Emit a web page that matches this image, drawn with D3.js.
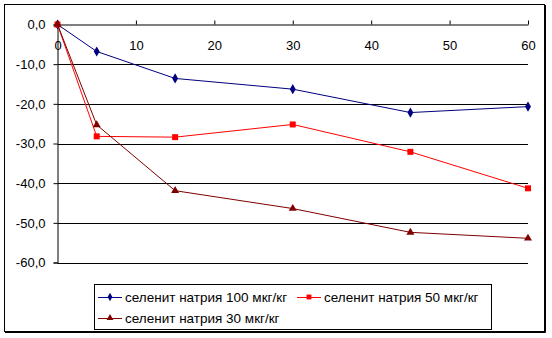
<!DOCTYPE html>
<html>
<head>
<meta charset="utf-8">
<script src="https://cdn.jsdelivr.net/npm/d3@7/dist/d3.min.js"></script>
<style>
  html, body { margin: 0; padding: 0; background: #fff; }
  svg { display: block; font-family: Arial, "Liberation Sans", sans-serif; }
</style>
</head>
<body>
<svg id="chart" width="552" height="338"></svg>
<script>
// Time points (x) and change values for each dose
const days = [0, 5, 15, 30, 45, 60];
const dose100 = [0, -6.8, -13.6, -16.3, -22.2, -20.7];
const dose50  = [0, -28.2, -28.4, -25.2, -32.1, -41.3];
const dose30  = [0, -25.3, -41.9, -46.4, -52.4, -53.9];
const xTicks = [0, 10, 20, 30, 40, 50, 60];
const yTicks = [0, -10, -20, -30, -40, -50, -60];
const seriesNames = ["селенит натрия 100 мкг/кг", "селенит натрия 50 мкг/кг", "селенит натрия 30 мкг/кг"];

const series = [
  { name: seriesNames[0], values: dose100, color: "#000080", marker: "diamond" },
  { name: seriesNames[1], values: dose50,  color: "#FF0000", marker: "square" },
  { name: seriesNames[2], values: dose30,  color: "#800000", marker: "triangle" }
];

const svg = d3.select("#chart");

// Outer frame
svg.append("rect")
  .attr("x", 4.5).attr("y", 4.5)
  .attr("width", 540).attr("height", 327)
  .attr("fill", "#fff").attr("stroke", "#000").attr("stroke-width", 1);
svg.append("path")
  .attr("d", "M545.5,5 V332.5 H5")
  .attr("fill", "none").attr("stroke", "#000").attr("stroke-width", 1);

const x = d3.scaleLinear().domain([0, 60]).range([57.5, 528]);
const y = d3.scaleLinear().domain([-60, 0]).range([262.5, 24.5]);

// Horizontal gridlines
svg.append("g")
  .selectAll("line")
  .data(yTicks.filter(v => v !== 0))
  .join("line")
  .attr("x1", x(0)).attr("x2", x(60))
  .attr("y1", d => Math.round(y(d)) + 0.5).attr("y2", d => Math.round(y(d)) + 0.5)
  .attr("stroke", "#000").attr("stroke-width", 1);

// Y axis (left)
const yAxis = svg.append("g")
  .attr("transform", `translate(${x(0)},0)`)
  .call(d3.axisLeft(y).tickValues(yTicks).tickSize(4).tickPadding(8)
    .tickFormat(d => d3.format(".1f")(d).replace(".", ",").replace("−", "-")));
yAxis.select(".domain").attr("stroke", "#000");
yAxis.selectAll("line").attr("stroke", "#000");
yAxis.selectAll("text").attr("font-size", 13).attr("fill", "#000");

// X axis sits on the zero line, ticks pointing up, labels below
const xAxis = svg.append("g")
  .attr("transform", `translate(0,${y(0)})`)
  .call(d3.axisTop(x).tickValues(xTicks).tickSize(4).tickSizeOuter(0).tickFormat(d3.format("d")));
xAxis.select(".domain").attr("stroke", "#000");
xAxis.selectAll("line").attr("stroke", "#000");
xAxis.selectAll("text")
  .attr("font-size", 13).attr("fill", "#000")
  .attr("y", 21).attr("dy", "0.35em");

// Marker symbols
const sym = {
  diamond: d3.symbol().type(d3.symbolDiamond).size(30),
  square: d3.symbol().type(d3.symbolSquare).size(36),
  triangle: d3.symbol().type(d3.symbolTriangle).size(28)
};

const line = d3.line().x(d => x(d[0])).y(d => y(d[1]));

series.forEach(s => {
  const pts = days.map((d, i) => [d, s.values[i]]);
  svg.append("path")
    .datum(pts)
    .attr("d", line)
    .attr("fill", "none")
    .attr("stroke", s.color)
    .attr("stroke-width", 1);
  svg.append("g")
    .selectAll("path")
    .data(pts)
    .join("path")
    .attr("transform", d => `translate(${x(d[0])},${y(d[1])})`)
    .attr("d", sym[s.marker])
    .attr("fill", s.color);
});

// Legend
const legend = svg.append("g");
legend.append("rect")
  .attr("x", 94.5).attr("y", 284.5)
  .attr("width", 397).attr("height", 45)
  .attr("fill", "#fff").attr("stroke", "#000").attr("stroke-width", 1);

const legendPos = [
  { lx: 98, ty: 297 },
  { lx: 297, ty: 297 },
  { lx: 98, ty: 318 }
];
series.forEach((s, i) => {
  const p = legendPos[i];
  legend.append("line")
    .attr("x1", p.lx).attr("x2", p.lx + 24)
    .attr("y1", p.ty + 0.5).attr("y2", p.ty + 0.5)
    .attr("stroke", s.color).attr("stroke-width", 1);
  legend.append("path")
    .attr("transform", `translate(${p.lx + 12},${p.ty})`)
    .attr("d", d3.symbol().type(
      s.marker === "diamond" ? d3.symbolDiamond : s.marker === "square" ? d3.symbolSquare : d3.symbolTriangle
    ).size(s.marker === "square" ? 24 : 20))
    .attr("fill", s.color);
  legend.append("text")
    .attr("x", p.lx + 27).attr("y", p.ty)
    .attr("dy", "0.35em")
    .attr("font-size", 13.5).attr("fill", "#000")
    .text(s.name);
});
</script>
</body>
</html>
